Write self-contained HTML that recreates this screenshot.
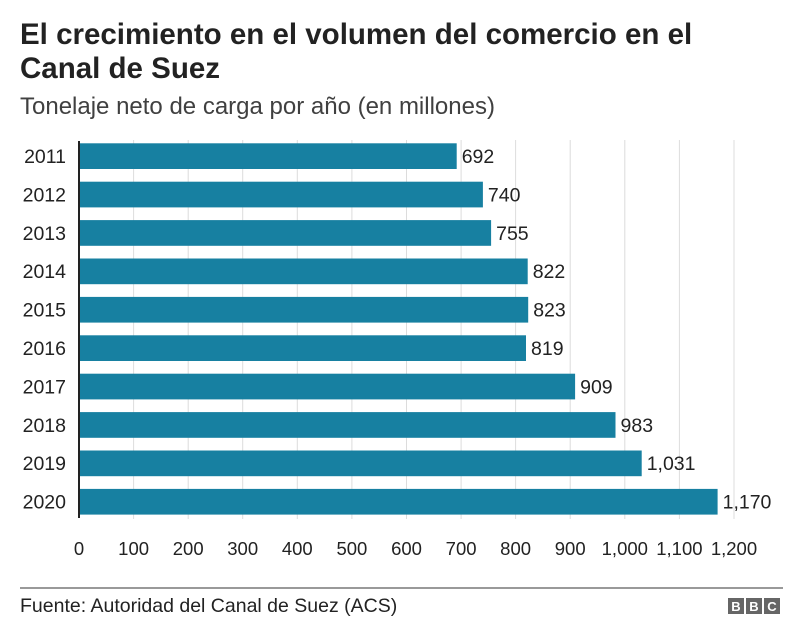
<!DOCTYPE html>
<html><head><meta charset="utf-8"><style>
body{margin:0;width:800px;height:640px;background:#fff;font-family:"Liberation Sans",Arial,sans-serif;color:#222;position:relative;overflow:hidden}
.t{position:absolute;left:20px;top:18px;font-size:29.5px;font-weight:bold;line-height:34px;color:#222;white-space:nowrap}
.s{position:absolute;left:20px;top:93px;font-size:24px;color:#404040;white-space:nowrap}
</style></head><body>
<div class="t">El crecimiento en el volumen del comercio en el<br>Canal de Suez</div>
<div class="s">Tonelaje neto de carga por año (en millones)</div>
<svg width="800" height="640" style="position:absolute;left:0;top:0" font-family="Liberation Sans, Arial, sans-serif" font-size="19.5" fill="#222">
<g stroke="#dcdcdc" stroke-width="1">
<line x1="133.6" y1="140" x2="133.6" y2="519"/><line x1="188.2" y1="140" x2="188.2" y2="519"/><line x1="242.7" y1="140" x2="242.7" y2="519"/><line x1="297.3" y1="140" x2="297.3" y2="519"/><line x1="351.9" y1="140" x2="351.9" y2="519"/><line x1="406.5" y1="140" x2="406.5" y2="519"/><line x1="461.1" y1="140" x2="461.1" y2="519"/><line x1="515.6" y1="140" x2="515.6" y2="519"/><line x1="570.2" y1="140" x2="570.2" y2="519"/><line x1="624.8" y1="140" x2="624.8" y2="519"/><line x1="679.4" y1="140" x2="679.4" y2="519"/><line x1="734" y1="140" x2="734" y2="519"/>
</g>
<g fill="#1780a1">
<rect x="79" y="143.3" width="377.7" height="25.7"/>
<rect x="79" y="181.7" width="403.9" height="25.7"/>
<rect x="79" y="220.1" width="412.1" height="25.7"/>
<rect x="79" y="258.5" width="448.7" height="25.7"/>
<rect x="79" y="296.9" width="449.2" height="25.7"/>
<rect x="79" y="335.3" width="447.0" height="25.7"/>
<rect x="79" y="373.7" width="496.1" height="25.7"/>
<rect x="79" y="412.1" width="536.5" height="25.7"/>
<rect x="79" y="450.5" width="562.7" height="25.7"/>
<rect x="79" y="488.9" width="638.6" height="25.7"/>
</g>
<line x1="79" y1="141" x2="79" y2="518" stroke="#222" stroke-width="2"/>
<g text-anchor="end">
<text x="66" y="163">2011</text><text x="66" y="201.4">2012</text><text x="66" y="239.8">2013</text><text x="66" y="278.2">2014</text><text x="66" y="316.6">2015</text><text x="66" y="355">2016</text><text x="66" y="393.4">2017</text><text x="66" y="431.8">2018</text><text x="66" y="470.2">2019</text><text x="66" y="508.6">2020</text>
</g>
<g>
<text x="461.7" y="163">692</text><text x="487.9" y="201.4">740</text><text x="496.1" y="239.8">755</text><text x="532.7" y="278.2">822</text><text x="533.2" y="316.6">823</text><text x="531" y="355">819</text><text x="580.1" y="393.4">909</text><text x="620.5" y="431.8">983</text><text x="646.7" y="470.2">1,031</text><text x="722.6" y="508.6">1,170</text>
</g>
<g text-anchor="middle" font-size="18.5">
<text x="79" y="555">0</text><text x="133.6" y="555">100</text><text x="188.2" y="555">200</text><text x="242.7" y="555">300</text><text x="297.3" y="555">400</text><text x="351.9" y="555">500</text><text x="406.5" y="555">600</text><text x="461.1" y="555">700</text><text x="515.6" y="555">800</text><text x="570.2" y="555">900</text><text x="624.8" y="555">1,000</text><text x="679.4" y="555">1,100</text><text x="734" y="555">1,200</text>
</g>
<line x1="20" y1="588" x2="783" y2="588" stroke="#333" stroke-width="1"/>
<text x="20" y="612" font-size="19.5">Fuente: Autoridad del Canal de Suez (ACS)</text>
<g fill="#666"><rect x="728" y="598" width="16" height="16"/><rect x="746" y="598" width="16" height="16"/><rect x="764" y="598" width="16" height="16"/></g>
<g fill="#fff" font-weight="bold" font-size="13" text-anchor="middle"><text x="736" y="611">B</text><text x="754" y="611">B</text><text x="772" y="611">C</text></g>
</svg>
</body></html>
